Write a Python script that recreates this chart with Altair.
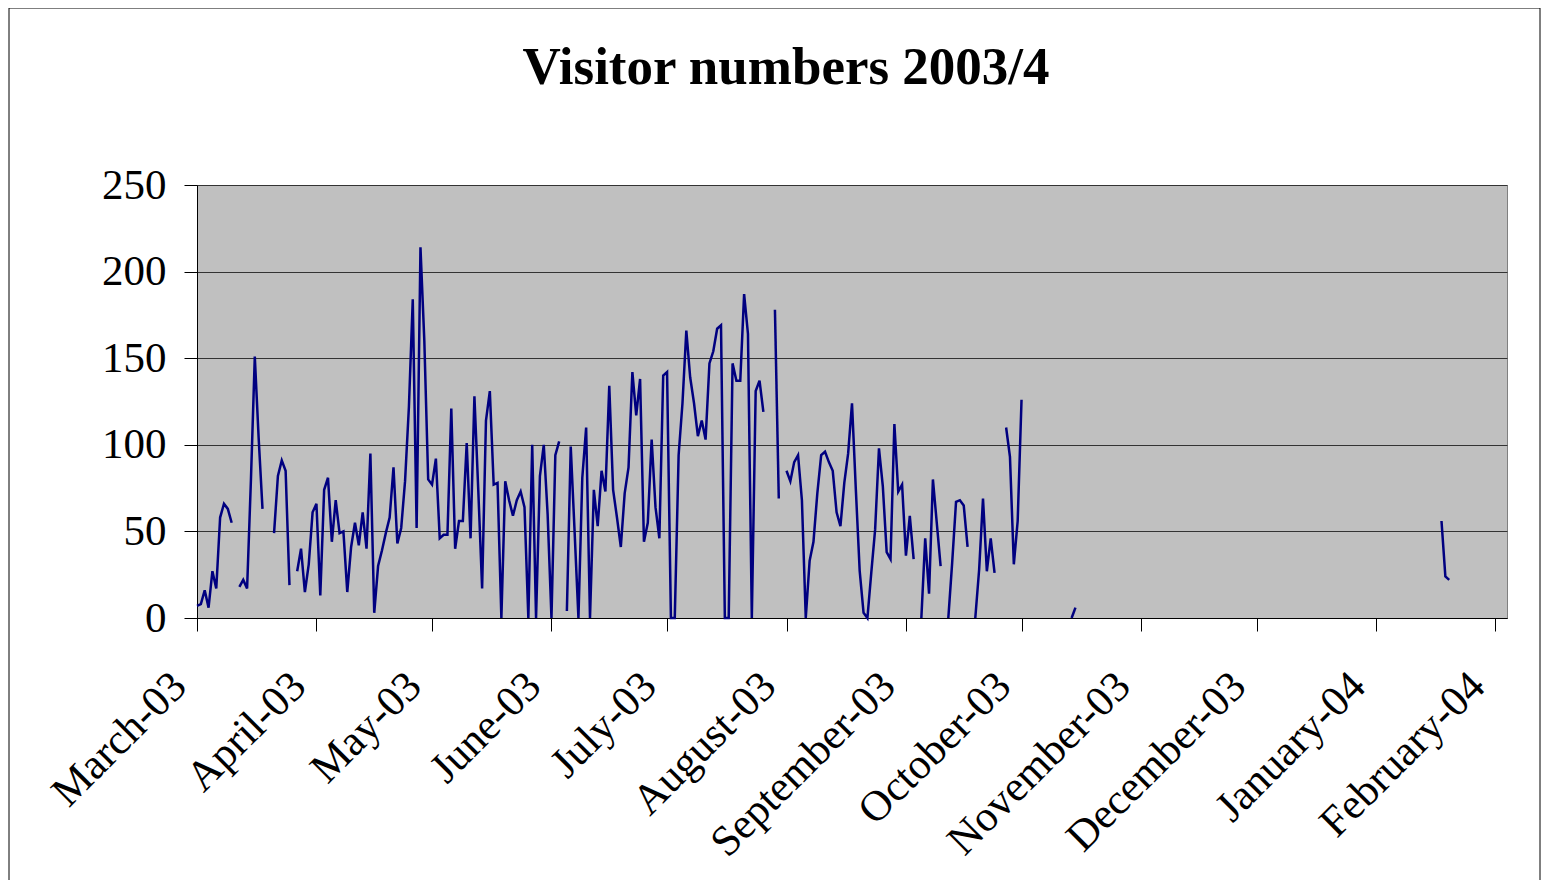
import datetime as dt
import altair as alt
import pandas as pd

# Daily visitor counts, 1 March 2003 .. 1 October 2003 (None = no data that day)
start_main = "2003-03-01"
visitors_main = [
    7, 8, 16, 6, 27, 17, 58, 66, 63, 55,
    None, 18, 22, 17, 80, 151, 104, 63, None, None,
    49, 82, 91, 85, 19, None, 27, 40, 15, 31,
    61, 66, 13, 74, 81, 44, 68, 49, 50, 15,
    41, 55, 42, 61, 40, 95, 3, 30, 39, 49,
    58, 87, 43, 52, 79, 122, 184, 52, 214, 160,
    80, 77, 92, 46, 48, 48, 121, 40, 56, 56,
    101, 46, 128, 74, 17, 114, 131, 77, 78, 0,
    79, 68, 59, 68, 73, 64, 0, 100, 0, 82,
    100, 60, 0, 94, 102, None, 4, 99, 50, 0,
    81, 110, 0, 74, 53, 85, 73, 134, 74, 58,
    41, 72, 87, 142, 117, 138, 44, 55, 103, 64,
    46, 140, 142, 0, 0, 94, 124, 166, 139, 124,
    105, 114, 103, 147, 154, 167, 169, 0, 0, 147,
    137, 137, 187, 164, 0, 131, 137, 119, None, None,
    178, 69, None, 85, 79, 90, 94, 68, 0, 33,
    44, 72, 94, 96, 90, 85, 61, 53, 78, 95,
    124, 74, 27, 3, 0, 26, 51, 98, 76, 38,
    34, 112, 73, 77, 36, 59, 34, None, 0, 46,
    14, 80, 55, 30, None, 0, 32, 67, 68, 65,
    41, None, 0, 28, 69, 27, 46, 26, None, None,
    110, 93, 31, 56, 126,
]

# Short later runs
start_oct = "2003-10-14"
visitors_oct = [0, 6]
start_jan = "2004-01-18"
visitors_jan = [56, 24, 22]

# Axis ticks (month starts) and y ticks
month_ticks = [(2003, m) for m in range(3, 13)] + [(2004, 1), (2004, 2)]
y_ticks = [0, 50, 100, 150, 200, 250]
chart_title = "Visitor numbers 2003/4"

rows = []
seg = 0
for s, vals in [(start_main, visitors_main), (start_oct, visitors_oct), (start_jan, visitors_jan)]:
    seg += 1
    d0 = dt.date.fromisoformat(s)
    for i, v in enumerate(vals):
        if v is None:
            seg += 1
            continue
        rows.append({"date": (d0 + dt.timedelta(days=i)).isoformat(), "visitors": v, "segment": seg})
df = pd.DataFrame(rows)

FONT = "Liberation Serif"

x_axis = alt.Axis(
    values=[alt.DateTime(year=y, month=m, date=1, utc=True) for y, m in month_ticks],
    labelExpr="utcFormat(datum.value, '%B-%y')",
    labelAngle=-45,
    labelAlign="right",
    labelBaseline="middle",
    labelFont=FONT,
    labelFontSize=43,
    labelColor="black",
    labelPadding=48,
    labelOffset=-18,
    labelOverlap=False,
    labelFlush=False,
    labelLimit=500,
    tickSize=13,
    tickColor="black",
    domainColor="black",
    grid=False,
)

y_axis = alt.Axis(
    values=y_ticks,
    labelFont=FONT,
    labelFontSize=43,
    labelColor="black",
    labelPadding=18,
    tickSize=13,
    tickColor="black",
    domainColor="black",
    grid=True,
    gridColor="#333333",
    gridWidth=1,
)

line = alt.Chart(df).mark_line(color="#000080", strokeWidth=2.5).encode(
    x=alt.X(
        "date:T",
        title=None,
        scale=alt.Scale(
            type="utc",
            domain=[
                alt.DateTime(year=2003, month=3, date=1, utc=True),
                alt.DateTime(year=2004, month=2, date=4, utc=True),
            ],
            nice=False,
        ),
        axis=x_axis,
    ),
    y=alt.Y("visitors:Q", title=None, scale=alt.Scale(domain=[0, 250], nice=False), axis=y_axis),
    detail="segment:N",
)

frame = alt.Chart(pd.DataFrame({"a": [0]})).mark_rect(
    fill="transparent", stroke="black", strokeWidth=1, clip=False
).encode(
    x=alt.value(-188), x2=alt.value(1343), y=alt.value(-177), y2=alt.value(720)
)

title = alt.Chart(pd.DataFrame({"t": [chart_title]})).mark_text(
    font=FONT, fontSize=53, fontWeight="bold", color="black",
    align="center", baseline="alphabetic", clip=False,
).encode(text="t:N", x=alt.value(589), y=alt.value(-101))

chart = (
    alt.layer(line, frame, title)
    .properties(
        width=1310,
        height=433,
        padding={"left": 189, "top": 177, "right": 35, "bottom": 262},
        autosize=alt.AutoSizeParams(type="none"),
        background="white",
    )
    .configure_view(fill="#C0C0C0", stroke="#808080", strokeWidth=1)
)

chart.save("out.html", embed_options={"renderer": "svg", "actions": False})
